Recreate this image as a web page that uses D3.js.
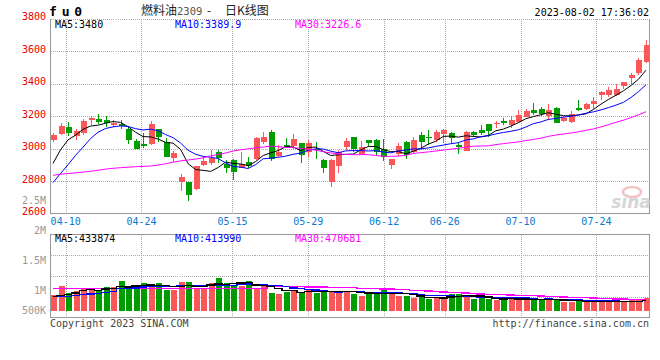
<!DOCTYPE html>
<html><head><meta charset="utf-8">
<script src="https://cdn.jsdelivr.net/npm/d3@7"></script>
<style>body{margin:0;background:#fff}svg{display:block}</style>
</head><body>
<svg id="c" width="660" height="360"></svg>
<script>
const dates = ["04-06","04-07","04-10","04-11","04-12","04-13","04-14","04-17","04-18","04-19","04-20","04-21","04-24","04-25","04-26","04-27","04-28","05-04","05-05","05-08","05-09","05-10","05-11","05-12","05-15","05-16","05-17","05-18","05-19","05-22","05-23","05-24","05-25","05-26","05-29","05-30","05-31","06-01","06-02","06-05","06-06","06-07","06-08","06-09","06-12","06-13","06-14","06-15","06-16","06-19","06-20","06-21","06-26","06-27","06-28","06-29","06-30","07-03","07-04","07-05","07-06","07-07","07-10","07-11","07-12","07-13","07-14","07-17","07-18","07-19","07-20","07-21","07-24","07-25","07-26","07-27","07-28","07-31","08-01","08-02"];
const opens  = [3051,3090,3131,3080,3096,3178,3180,3174,3145,3148,3119,3047,3029,3027,3119,3041,2942,2795,2794,2750,2897,2911,2977,2903,2928,2883,2918,2934,3041,3100,2955,3020,3016,3033,2979,2994,2928,2794,2893,3010,3070,2969,3051,3051,2994,2897,2965,3039,2979,3082,3068,3051,3088,3096,3023,2986,3103,3113,3150,3150,3170,3144,3164,3195,3236,3242,3199,3252,3168,3164,3248,3246,3273,3328,3328,3328,3386,3435,3466,3533];
const highs  = [3096,3156,3162,3123,3183,3201,3211,3201,3174,3178,3133,3059,3096,3170,3123,3066,2985,2842,2796,2895,2948,2992,2990,2928,2938,2977,2948,3070,3100,3113,3020,3065,3090,3035,3051,3037,2938,2938,2990,3065,3072,3047,3053,3057,3061,2936,3034,3045,3072,3103,3113,3113,3121,3103,3041,3109,3105,3144,3152,3170,3185,3199,3240,3246,3281,3256,3273,3254,3195,3230,3297,3281,3318,3355,3379,3400,3412,3466,3556,3667];
const lows   = [3041,3084,3078,3055,3084,3146,3148,3131,3133,3121,3027,2996,3006,3021,3041,2949,2914,2741,2677,2743,2895,2897,2911,2850,2805,2881,2877,2932,3026,2922,2948,3006,3000,2911,2948,2938,2850,2764,2850,2990,2979,2959,3014,2953,2924,2872,2955,2934,2973,3000,3021,3041,3031,3031,2969,2982,3068,3082,3072,3129,3144,3129,3154,3191,3205,3199,3174,3154,3164,3158,3232,3240,3246,3297,3318,3322,3365,3400,3455,3529];
const closes = [3082,3137,3096,3105,3168,3185,3164,3154,3160,3139,3051,2998,3018,3152,3072,2949,2973,2824,2715,2892,2923,2942,2942,2881,2856,2903,2891,3065,3070,2934,2977,3010,3057,2957,3031,2988,2881,2928,2979,3045,2996,3010,3031,2979,2948,2934,3014,2963,3055,3041,3062,3103,3113,3062,3010,3103,3082,3098,3109,3154,3154,3174,3205,3230,3219,3211,3236,3158,3185,3215,3236,3273,3293,3349,3359,3365,3410,3455,3545,3635];
const volumes = [637,1016,732,813,921,921,840,976,976,1206,908,1003,1138,1003,1138,840,840,1165,1179,935,881,1138,1341,1138,1043,1003,1206,908,1084,732,678,772,840,772,840,732,772,813,813,813,705,596,705,732,840,732,596,596,542,569,474,542,542,705,705,637,474,542,474,461,461,542,474,474,434,434,542,434,366,366,434,366,434,366,366,366,366,461,434,542].map(v => v * 1000);

// moving-average values for the first days (earlier data not shown)
const ma5Head  = [2908,2992,3053,3082];
const ma10Head = [2790,2846,2900,2958,3008,3061,3100,3123,3133];
const ma30Head = [2835,2842,2846,2850,2855,2860,2866,2873,2878,2882,2885,2888,2890,2892,2898,2906,2916,2924,2929,2935,2943,2955,2963,2972,2985,2992,2998,3004,3009];
const vma5Head  = [596000,623000,678000,732000];
const vma10Head = [583000,590000,596000,630000,660000,690000,720000,760000,800000];
const vma30Head = [905000,905000,905000,905000,905000,905000,905000,905000,905000,905000,905000,905000,905000,905000,905000,905000,905000,905000,905000,905000,905000,905000,905000,905000,905000,905000,905000,905000,905000];

const priceTicks = [3800,3600,3400,3200,3000,2800,2600];
const volTickValues = [2500000,2000000,1500000,1000000,500000];
const volTickLabels = ["2.5M","2M","1.5M","1M","500K"];
const dateTicks = ["04-10","04-24","05-15","05-29","06-12","06-26","07-10","07-24"];
const priceLegend = ["MA5:3480","MA10:3389.9","MA30:3226.6"];
const volLegend = ["MA5:433874","MA10:413990","MA30:470681"];
const maColors = ["#000000","#0000ff","#ff00ff"];

const RED = "#fa5858", GREEN = "#009d00";
const MONO = "'DejaVu Sans Mono', 'Liberation Mono', monospace";
const svg = d3.select("#c");
const n = dates.length;

const L = 50.5, R = 649.5, PT = 18.5, PB = 213.5, VT = 234.5, VB = 317.5, VBASE = 311;
const x = d3.scaleLinear().domain([0, n - 1]).range([53, 646]);
const xg = d3.scaleLinear().domain([0, n - 1]).range([L, R]);
const y = d3.scaleLinear().domain([2600, 3800]).range([PB, PT]);
const yv = d3.scaleLinear().domain([0, 1000000]).range([VBASE, VBASE - 24.6]);
const yvLabel = d3.scaleLinear().domain([2500000, 1000000]).range([200, 290.5]);

function ma(arr, p, head) {
  return arr.map((d, i) => i < p - 1 ? head[i] : d3.mean(arr.slice(i - p + 1, i + 1)));
}

svg.append("defs").append("clipPath").attr("id", "pc")
  .append("rect").attr("x", L).attr("y", PT).attr("width", R - L).attr("height", PB - PT);
svg.append("defs").append("clipPath").attr("id", "vc")
  .append("rect").attr("x", L).attr("y", VT).attr("width", R - L).attr("height", VB - VT);

const grid = svg.append("g").attr("stroke", "#aaa").attr("stroke-dasharray", "1,1").attr("shape-rendering", "crispEdges");
grid.selectAll(".hp").data(priceTicks.slice(0, -1)).join("line")
  .attr("x1", L).attr("x2", R).attr("y1", d => Math.round(y(d)) + 0.5).attr("y2", d => Math.round(y(d)) + 0.5);
grid.selectAll(".hv").data([1, 2, 3]).join("line").attr("class", "hv")
  .attr("x1", L).attr("x2", R)
  .attr("y1", d => Math.round(VT + (VB - VT) * d / 4) + 0.5).attr("y2", d => Math.round(VT + (VB - VT) * d / 4) + 0.5);
const tickIdx = dateTicks.map(t => dates.indexOf(t));
grid.selectAll(".vp").data(tickIdx).join("line").attr("class", "vp")
  .attr("x1", d => Math.round(xg(d)) + 0.5).attr("x2", d => Math.round(xg(d)) + 0.5).attr("y1", PT).attr("y2", PB);
grid.selectAll(".vv").data(tickIdx).join("line").attr("class", "vv")
  .attr("x1", d => Math.round(xg(d)) + 0.5).attr("x2", d => Math.round(xg(d)) + 0.5).attr("y1", VT).attr("y2", VB);

const bord = svg.append("g").attr("stroke", "#999").attr("fill", "none").attr("shape-rendering", "crispEdges");
bord.append("path").attr("d", `M${L},${PT}V${PB}H${R}V${PT}`);
bord.append("rect").attr("x", L).attr("y", VT).attr("width", R - L).attr("height", VB - VT);

const wm = svg.append("g");
wm.append("ellipse").attr("cx", 632).attr("cy", 192).attr("rx", 9).attr("ry", 5).attr("fill", "none").attr("stroke", "#f2c4c4").attr("stroke-width", 2.5);
wm.append("text").attr("x", 631).attr("y", 208).attr("text-anchor", "middle")
  .attr("font-family", "'DejaVu Sans', sans-serif").attr("font-style", "italic").attr("font-weight", "bold")
  .attr("font-size", 17).attr("fill", "#d6d6d6").text("sina");

const idx = d3.range(n);
const up = i => closes[i] >= opens[i];
const cg = svg.append("g").attr("clip-path", "url(#pc)").attr("shape-rendering", "crispEdges");
cg.selectAll(".wick").data(idx).join("line")
  .attr("x1", i => Math.round(x(i)) + 0.5).attr("x2", i => Math.round(x(i)) + 0.5)
  .attr("y1", i => y(highs[i])).attr("y2", i => y(lows[i]))
  .attr("stroke", i => up(i) ? RED : GREEN);
cg.selectAll(".body").data(idx).join("rect")
  .attr("x", i => Math.round(x(i)) - 2.5).attr("width", 6)
  .attr("y", i => y(Math.max(opens[i], closes[i])))
  .attr("height", i => Math.max(1, Math.abs(y(opens[i]) - y(closes[i]))))
  .attr("fill", i => up(i) ? RED : GREEN);

const pm = [ma(closes, 5, ma5Head), ma(closes, 10, ma10Head), ma(closes, 30, ma30Head)];
const lineP = d3.line().x((d, i) => x(i)).y(d => y(d));
const mg = svg.append("g").attr("clip-path", "url(#pc)");
pm.forEach((s, k) => mg.append("path").attr("d", lineP(s)).attr("fill", "none").attr("stroke", maColors[k]).attr("stroke-width", 1));

const vg = svg.append("g").attr("clip-path", "url(#vc)").attr("shape-rendering", "crispEdges");
vg.selectAll("rect").data(idx).join("rect")
  .attr("x", i => Math.round(x(i)) - 2.5).attr("width", 6)
  .attr("y", i => yv(volumes[i])).attr("height", i => VBASE - yv(volumes[i]))
  .attr("fill", i => up(i) ? RED : GREEN);
const vm = [ma(volumes, 5, vma5Head), ma(volumes, 10, vma10Head), ma(volumes, 30, vma30Head)];
const lineV = d3.line().x((d, i) => x(i)).y(d => yv(d)).curve(d3.curveStep);
vm.slice().reverse().forEach((s, k) => vg.append("path").attr("d", lineV(s)).attr("fill", "none")
  .attr("stroke", maColors[2 - k]).attr("stroke-width", 1.3));

const tg = svg.append("g").attr("font-family", MONO).attr("font-size", 10);
tg.selectAll(".pl").data(priceTicks).join("text")
  .attr("x", 46).attr("y", d => y(d) - 2).attr("dy", "0.35em").attr("text-anchor", "end")
  .attr("fill", "#e80000").text(d => d);
tg.selectAll(".vl").data(volTickValues).join("text")
  .attr("x", 46).attr("y", d => Math.min(yvLabel(d), 310.5)).attr("dy", "0.35em").attr("text-anchor", "end")
  .attr("fill", "#999").text((d, i) => volTickLabels[i]);
tg.selectAll(".xl").data(tickIdx).join("text")
  .attr("x", d => xg(d)).attr("y", 221.5).attr("dy", "0.35em").attr("text-anchor", "middle")
  .attr("fill", "#0a7ad0").text((d, i) => dateTicks[i]);

const legX = [55, 175, 295];
tg.selectAll(".lp").data(priceLegend).join("text")
  .attr("x", (d, i) => legX[i]).attr("y", 24).attr("dy", "0.35em").attr("fill", (d, i) => maColors[i]).text(d => d);
tg.selectAll(".lv").data(volLegend).join("text")
  .attr("x", (d, i) => legX[i]).attr("y", 238.5).attr("dy", "0.35em").attr("fill", (d, i) => maColors[i]).text(d => d);

svg.append("text").attr("x", 49).attr("y", 15.5).attr("font-family", MONO).attr("font-weight", "bold")
  .attr("font-size", 13).attr("letter-spacing", 4.8).attr("fill", "#000").text("fu0");
const CJK = "'Noto Sans CJK SC', sans-serif";
svg.append("text").attr("x", 141).attr("y", 15).attr("font-family", CJK).attr("font-size", 12).attr("fill", "#222").text("燃料油");
svg.append("text").attr("x", 177).attr("y", 15).attr("font-family", MONO).attr("font-size", 10.5).attr("fill", "#555").text("2309");
svg.append("text").attr("x", 207).attr("y", 15).attr("font-family", CJK).attr("font-size", 12).attr("fill", "#222").text("-");
svg.append("text").attr("x", 225).attr("y", 15).attr("font-family", CJK).attr("font-size", 12).attr("fill", "#222").text("日K线图");
svg.append("text").attr("x", 649).attr("y", 12).attr("dy", "0.35em").attr("text-anchor", "end")
  .attr("font-family", MONO).attr("font-size", 10).attr("fill", "#000").text("2023-08-02 17:36:02");

svg.append("text").attr("x", 50).attr("y", 323.5).attr("dy", "0.35em").attr("font-family", MONO).attr("font-size", 10)
  .attr("fill", "#444").text("Copyright 2023 SINA.COM");
svg.append("text").attr("x", 649).attr("y", 323.5).attr("dy", "0.35em").attr("text-anchor", "end").attr("font-family", MONO)
  .attr("font-size", 10).attr("fill", "#444").text("http://finance.sina.com.cn");
</script>
</body></html>
